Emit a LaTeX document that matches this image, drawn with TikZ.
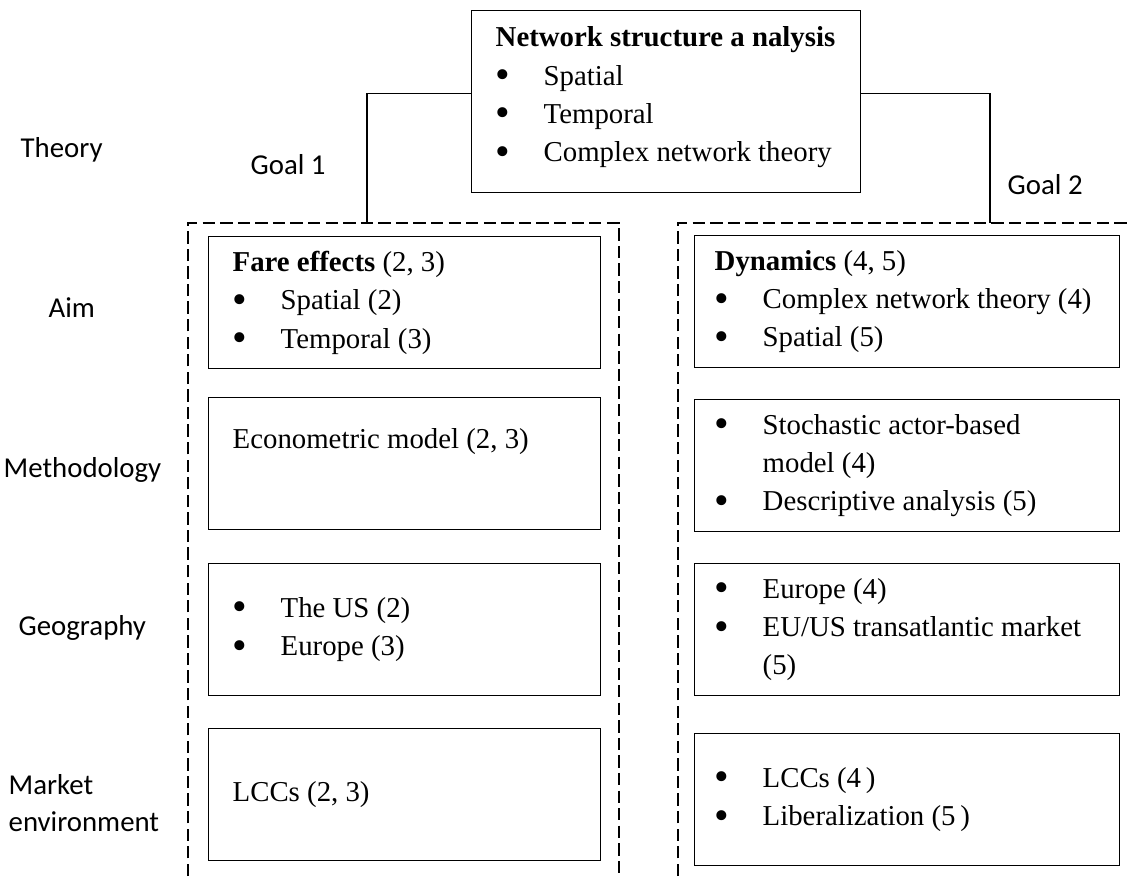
\documentclass[tikz,border=0pt]{standalone}
\usepackage{fontspec}
\setmainfont{Liberation Serif}
\newfontfamily\sidefamily{Carlito}
\usepackage{tikz}

\newcommand{\cellfont}{\fontsize{16.4}{21.8}\selectfont}
\newcommand{\sidefont}{\sidefamily\fontsize{16.4}{21}\selectfont}
\newcommand{\itembul}{\makebox[0.96cm][l]{\raisebox{-0.12em}{\scalebox{1.45}{\textbullet}}}}

\tikzset{
  cell/.style={draw, anchor=north west, minimum height=2.64cm, align=flush left, font=\cellfont},
  leftcell/.style={cell, inner xsep=0.48cm, text width=6.88cm},
  rightcell/.style={cell, inner xsep=0.4cm, text width=7.7cm},
  sidelabel/.style={anchor=west, inner sep=0pt, align=left, font=\sidefont},
  frame/.style={dash pattern=on 7pt off 3pt}
}

\begin{document}
\begin{tikzpicture}[thick, x=0.02cm, y=-0.02cm]
  \useasboundingbox (0,0) rectangle (1131,876);
  % Top box
  \node[cell, inner xsep=0.48cm, text width=6.82cm, minimum height=3.64cm] (top) at (471,10)
    {\textbf{Network structure a nalysis}\\ \itembul Spatial\\ \itembul Temporal\\ \itembul Complex network theory\rule[-0.3cm]{0pt}{0pt}};
  % Row labels
  \node[sidelabel] (theory) at (20,150) {Theory};
  \node[sidelabel] (aim) at (48,308) {Aim};
  \node[sidelabel] (method) at (3,470) {Methodology};
  \node[sidelabel] (geo) at (18,628) {Geography};
  \node[sidelabel] (market) at (8,803) {Market\\environment};
  \node[sidelabel] (goalone) at (250,165) {Goal 1};
  \node[sidelabel] (goaltwo) at (1007,185) {Goal 2};
  % Dashed frames
  \draw[frame] (188,876) -- (188,223) -- (619,223) -- (619,876);
  \draw[frame] (678,876) -- (678,223) -- (1131,223);
  % Connectors
  \coordinate (goalA) at (367,223);
  \coordinate (goalB) at (990,223);
  \draw ([yshift=0.16cm]top.west) -| (goalA);
  \draw ([yshift=0.16cm]top.east) -| (goalB);
  % Goal 1 column
  \node[leftcell] (aimA) at (208,236) {\textbf{Fare effects} (2, 3)\\ \itembul Spatial (2)\\ \itembul Temporal (3)};
  \node[leftcell] (methA) at (208,397) {Econometric model (2, 3)\\ \strut};
  \node[leftcell] (geoA) at (208,563) {\itembul The US (2)\\ \itembul Europe (3)};
  \node[leftcell] (marketA) at (208,728) {LCCs (2, 3)};
  % Goal 2 column
  \node[rightcell] (aimB) at (694,235) {\textbf{Dynamics} (4, 5)\\ \itembul Complex network theory (4)\\ \itembul Spatial (5)};
  \node[rightcell] (methB) at (694,399) {\itembul Stochastic actor-based\\ \hspace*{0.96cm}model (4)\\ \itembul Descriptive analysis (5)};
  \node[rightcell] (geoB) at (694,563) {\itembul Europe (4)\\ \itembul EU/US transatlantic market\\ \hspace*{0.96cm}(5)};
  \node[rightcell] (marketB) at (694,733) {\itembul LCCs (4\,)\\ \itembul Liberalization (5\,)};
\end{tikzpicture}
\end{document}
